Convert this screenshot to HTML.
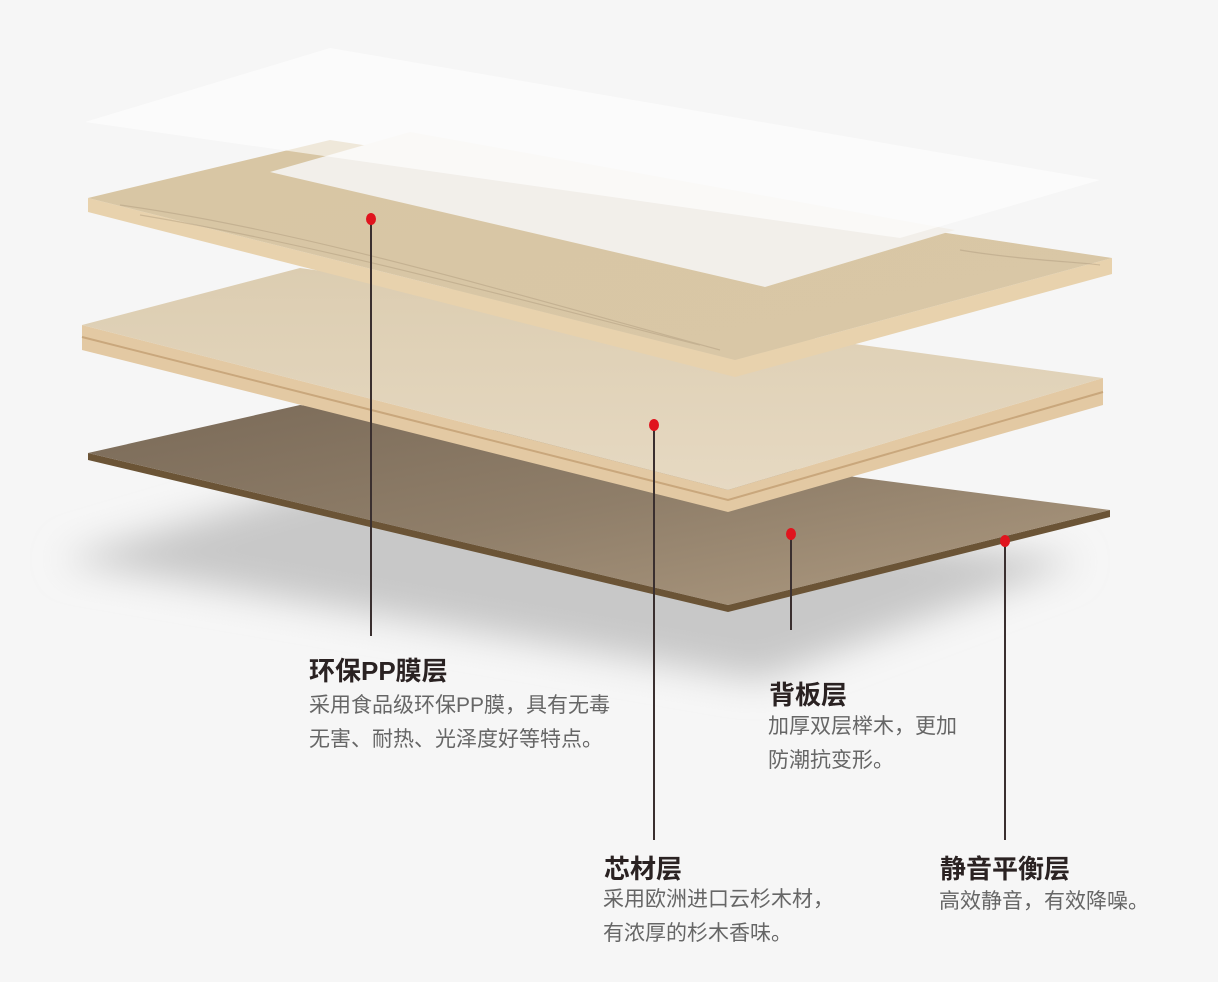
<!DOCTYPE html>
<html><head><meta charset="utf-8"><style>
body{margin:0;width:1218px;height:982px;background:#f6f6f6;position:relative;overflow:hidden;font-family:"Liberation Sans","Noto Sans CJK SC",sans-serif}
.t{position:absolute;font-weight:bold;font-size:26px;color:#2a2222;white-space:nowrap}
.d{position:absolute;font-size:21px;color:#666;line-height:34px;white-space:nowrap}
</style></head><body>
<svg width="1218" height="982" style="position:absolute;left:0;top:0">
<defs>
<filter id="b" x="-20%" y="-50%" width="140%" height="200%"><feGaussianBlur stdDeviation="18"/></filter>
<linearGradient id="w1" x1="0" y1="0" x2="1" y2="1"><stop offset="0" stop-color="#d8c6a4"/><stop offset="1" stop-color="#d9c7a6"/></linearGradient>
<linearGradient id="w2" x1="0" y1="0" x2="0" y2="1"><stop offset="0" stop-color="#dccdb1"/><stop offset="1" stop-color="#e6d9c2"/></linearGradient>
<linearGradient id="br" x1="0" y1="0" x2="1" y2="1"><stop offset="0" stop-color="#7a6a58"/><stop offset="0.5" stop-color="#8f7e69"/><stop offset="1" stop-color="#b09c82"/></linearGradient>
</defs>
<polygon points="60,560 330,480 1080,560 760,680" fill="#c8c8c8" filter="url(#b)"/>
<polygon points="88,453 88,460 728,612 1110,517 1110,510 728,605" fill="#6b5436"/>
<polygon points="88,453 300,405 1110,510 728,605" fill="url(#br)"/>
<polygon points="82,325 82,350 728,512 1103,405 1103,378 728,490" fill="#e3c9a3"/>
<polyline points="82,337 728,500 1103,392" fill="none" stroke="#c9a77c" stroke-width="2"/>
<polygon points="82,325 300,268 1103,378 728,490" fill="url(#w2)"/>
<polygon points="88,198 88,212 735,377 1112,274 1112,258 735,360" fill="#e8d2ad"/>
<polygon points="88,198 330,140 1112,258 735,360" fill="url(#w1)"/>
<g stroke="#a89477" stroke-width="1.2" fill="none" opacity="0.4">
<path d="M120,205 C300,230 500,290 720,350"/><path d="M140,215 C320,245 520,300 700,345"/>
<path d="M960,250 C1020,260 1080,262 1100,265"/>
</g>
<polygon points="270,172 410,132 955,230 765,287" fill="#f2efea"/>
<polygon points="85,122 330,48 1100,180 900,238" fill="#ffffff" opacity="0.6"/>
<g stroke="#3a2f2f" stroke-width="2">
<line x1="371" y1="219" x2="371" y2="636"/>
<line x1="654" y1="425" x2="654" y2="840"/>
<line x1="791" y1="534" x2="791" y2="630"/>
<line x1="1005" y1="541" x2="1005" y2="840"/>
</g>
<g fill="#e0141e">
<ellipse cx="371" cy="219" rx="5" ry="6"/><ellipse cx="654" cy="425" rx="5" ry="6"/>
<ellipse cx="791" cy="534" rx="5" ry="6"/><ellipse cx="1005" cy="541" rx="5" ry="6"/>
</g>
</svg>
<div class="t" style="left:309px;top:651px">环保PP膜层</div>
<div class="d" style="left:309px;top:689px">采用食品级环保PP膜，具有无毒<br>无害、耐热、光泽度好等特点。</div>
<div class="t" style="left:769px;top:675px">背板层</div>
<div class="d" style="left:768px;top:710px">加厚双层榉木，更加<br>防潮抗变形。</div>
<div class="t" style="left:604px;top:849px">芯材层</div>
<div class="d" style="left:603px;top:883px">采用欧洲进口云杉木材，<br>有浓厚的杉木香味。</div>
<div class="t" style="left:940px;top:849px">静音平衡层</div>
<div class="d" style="left:939px;top:885px">高效静音，有效降噪。</div>
</body></html>
